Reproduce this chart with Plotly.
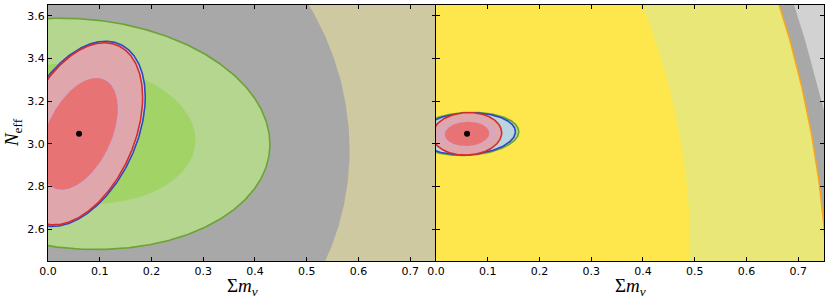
import numpy as np
import plotly.graph_objects as go
from plotly.subplots import make_subplots

# ---- data: fiducial point and forecast ellipses (half-extents in x / y, correlation) ----
FID_MNU = 0.06
FID_NEFF = 3.046

# left panel
L_NAMES = ["gray 2σ", "gray 1σ", "green 2σ", "green 1σ", "blue 2σ", "red 2σ", "blue 1σ", "red 1σ"]
L_HALF_X = [0.858, 0.523, 0.369, 0.225, 0.128, 0.123, 0.080, 0.075]
L_HALF_Y = [2.09, 1.272, 0.542, 0.330, 0.434, 0.427, 0.270, 0.262]
L_RHO = [-0.06, -0.06, -0.09, -0.09, 0.40, 0.40, 0.45, 0.45]

# right panel
R_NAMES = ["gray", "yellow 2σ", "yellow 1σ", "green 2σ", "blue 2σ", "red 2σ", "blue 1σ", "red 1σ"]
R_HALF_X = [0.873, 0.697, 0.4315, 0.100, 0.0935, 0.067, 0.057, 0.043]
R_HALF_Y = [5.0, 2.74, 1.743, 0.101, 0.098, 0.100, 0.062, 0.057]
R_RHO = [-0.595, -0.296, -0.307, 0.10, 0.10, 0.05, 0.05, 0.05]

X_TICKS = [0.0, 0.1, 0.2, 0.3, 0.4, 0.5, 0.6, 0.7]
Y_TICKS = [2.6, 2.8, 3.0, 3.2, 3.4, 3.6]

# ---- styles ----
L_FILL = ["#cec9a1", "#a8a8a8", "#b5d68f", "#a2d366", "#bcd6e0", "#dfa7ac", "#d8a6bd", "#e87374"]
L_LINE = [None, None, "#6ba334", None, "#2f47c0", "#d62a2a", None, None]
R_FILL = ["#a8a8a8", "#e8e777", "#fde74c", "#b5d68f", "#bad5df", "#dfa7ac", "#d9a6bb", "#e87374"]
R_LINE = [None, "#f5a623", None, "#6ba334", "#2f47c0", "#d62a2a", None, None]

t = np.linspace(0, 2 * np.pi, 721)


def ellipse(hx, hy, rho):
    x = FID_MNU + hx * np.cos(t)
    y = FID_NEFF + hy * (rho * np.cos(t) + np.sqrt(1 - rho ** 2) * np.sin(t))
    return x, y


fig = make_subplots(rows=1, cols=2, horizontal_spacing=0)

for col, names, hxs, hys, rhos, fills, lines in [
    (1, L_NAMES, L_HALF_X, L_HALF_Y, L_RHO, L_FILL, L_LINE),
    (2, R_NAMES, R_HALF_X, R_HALF_Y, R_RHO, R_FILL, R_LINE),
]:
    for name, hx, hy, rho, fc, lc in zip(names, hxs, hys, rhos, fills, lines):
        x, y = ellipse(hx, hy, rho)
        fig.add_trace(go.Scatter(
            x=x, y=y, mode="lines", fill="toself", fillcolor=fc,
            line=dict(color=lc if lc else fc, width=1.6 if lc else 0),
            name=name, hoverinfo="skip", showlegend=False), row=1, col=col)
    fig.add_trace(go.Scatter(x=[FID_MNU], y=[FID_NEFF], mode="markers",
                             marker=dict(color="black", size=6), showlegend=False),
                  row=1, col=col)

axis_common = dict(
    range=[0, 0.75], tickvals=X_TICKS, ticktext=[f"{v:.1f}" for v in X_TICKS],
    ticks="inside", ticklen=4, tickcolor="black", showline=True, linecolor="black",
    linewidth=1, mirror="allticks", showgrid=False, zeroline=False, automargin=False,
    tickfont=dict(family="DejaVu Sans", size=11, color="black"),
)
fig.update_xaxes(**axis_common, row=1, col=1)
fig.update_xaxes(**axis_common, row=1, col=2)

yaxis_common = dict(
    range=[2.45, 3.65], tickvals=Y_TICKS, ticktext=[f"{v:.1f}" for v in Y_TICKS],
    ticks="inside", ticklen=4, tickcolor="black", showline=True, linecolor="black",
    linewidth=1, mirror="allticks", showgrid=False, zeroline=False, automargin=False,
    tickfont=dict(family="DejaVu Sans", size=11, color="black"),
)
fig.update_yaxes(**yaxis_common, row=1, col=1)
fig.update_yaxes(**yaxis_common, showticklabels=False, row=1, col=2)

title_font = dict(family="Liberation Serif", size=19, color="black")
X_TITLE = "Σ<i>m</i><sub><i>ν</i></sub>"
Y_TITLE = "<i>N</i><sub>eff</sub>"
annotations = [
    dict(text=X_TITLE, x=0.25, y=-0.10, xref="paper", yref="paper",
         xanchor="center", yanchor="middle", showarrow=False, font=title_font),
    dict(text=X_TITLE, x=0.75, y=-0.10, xref="paper", yref="paper",
         xanchor="center", yanchor="middle", showarrow=False, font=title_font),
    dict(text=Y_TITLE, x=-0.045, y=0.5, xref="paper", yref="paper", textangle=-90,
         xanchor="center", yanchor="middle", showarrow=False, font=title_font),
]

fig.update_layout(
    width=830, height=303,
    margin=dict(l=48, r=6, t=5, b=42),
    plot_bgcolor="#d2d2d2", paper_bgcolor="white",
    annotations=annotations,
)
fig.layout.xaxis.domain = [0, 0.5]
fig.layout.xaxis2.domain = [0.5, 1]

fig.write_html("out.html", config={"displayModeBar": False},
               post_script="document.body.style.margin='0px';")
